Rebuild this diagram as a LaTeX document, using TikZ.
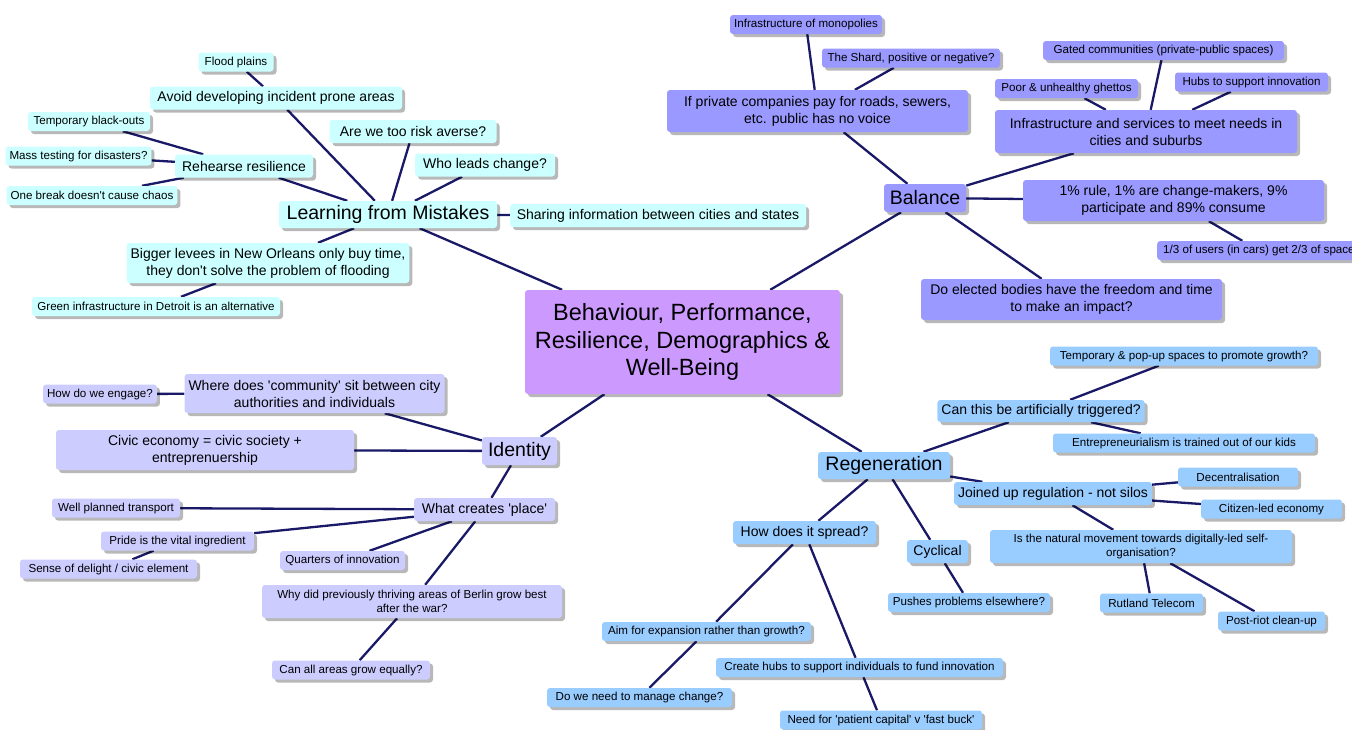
\documentclass[tikz,border=0pt]{standalone}
\usepackage{fontspec}
\newfontfamily\mapfont{Liberation Sans}
\usetikzlibrary{shadows}
\definecolor{lmcol}{HTML}{CCFFFF}
\definecolor{balcol}{HTML}{9999FF}
\definecolor{idcol}{HTML}{CCCCFF}
\definecolor{regcol}{HTML}{99CCFF}
\definecolor{ctrcol}{HTML}{CC99FF}
\definecolor{linkcol}{HTML}{191968}
\pgfdeclarelayer{background}
\pgfsetlayers{background,main}
\tikzset{
  box/.style={rectangle, rounded corners=3pt, draw=none, align=center,
    inner xsep=4pt, inner ysep=1pt,
    drop shadow={shadow xshift=3pt, shadow yshift=-3pt, fill=black, opacity=0.28}},
  sm/.style={box, font=\mapfont\fontsize{11.6}{13.5}\selectfont, minimum height=19pt},
  md/.style={box, font=\mapfont\fontsize{14}{17}\selectfont, minimum height=23pt},
  bg/.style={box, font=\mapfont\fontsize{19.5}{22}\selectfont, minimum height=27pt},
  lm/.style={fill=lmcol}, bal/.style={fill=balcol}, idn/.style={fill=idcol},
  rg/.style={fill=regcol},
  link/.style={draw=linkcol, line width=2.3pt}
}
\begin{document}
\begin{tikzpicture}[x=1pt,y=-1pt]
\useasboundingbox (0,0) rectangle (1352,729);
% centre
\node[box, fill=ctrcol, font=\mapfont\fontsize{23.5}{27.5}\selectfont, minimum width=315pt, minimum height=104pt] (ctr) at (682.5,342) {Behaviour, Performance,\\Resilience, Demographics \&\\Well-Being};
% Learning from mistakes
\node[sm,lm,minimum width=75pt] (flood) at (236,62) {Flood plains};
\node[md,lm,minimum width=252pt] (avoid) at (276,98) {Avoid developing incident prone areas};
\node[sm,lm,minimum width=122pt] (tbo) at (89,121.5) {Temporary black-outs};
\node[md,lm,minimum width=167pt] (risk) at (413,131.5) {Are we too risk averse?};
\node[sm,lm,minimum width=143pt] (mass) at (78.5,156) {Mass testing for disasters?};
\node[md,lm,minimum width=138pt] (rehearse) at (244,166) {Rehearse resilience};
\node[md,lm,minimum width=140pt] (who) at (485,165) {Who leads change?};
\node[sm,lm,minimum width=170pt] (onebreak) at (92,195.5) {One break doesn't cause chaos};
\node[bg,lm,minimum width=218pt] (learn) at (388,214.5) {Learning from Mistakes};
\node[md,lm,minimum width=296pt] (share) at (658,215.5) {Sharing information between cities and states};
\node[md,lm,minimum width=275pt,minimum height=40pt] (bigger) at (268,263) {Bigger levees in New Orleans only buy time,\\they don't solve the problem of flooding};
\node[sm,lm,minimum width=248pt] (green) at (156,306.5) {Green infrastructure in Detroit is an alternative};
% Balance
\node[sm,bal,minimum width=152pt] (mono) at (806,24.5) {Infrastructure of monopolies};
\node[sm,bal,minimum width=178pt] (shard) at (911,58) {The Shard, positive or negative?};
\node[sm,bal,minimum width=241pt] (gated) at (1163.5,50.5) {Gated communities (private-public spaces)};
\node[md,bal,minimum width=301pt,minimum height=42pt] (private) at (817.5,111) {If private companies pay for roads, sewers,\\etc. public has no voice};
\node[sm,bal,minimum width=143pt] (poor) at (1066.5,88.5) {Poor \& unhealthy ghettos};
\node[sm,bal,minimum width=153pt] (hubs) at (1251.5,82) {Hubs to support innovation};
\node[md,bal,minimum width=302pt,minimum height=43pt] (infra) at (1146,131.5) {Infrastructure and services to meet needs in\\cities and suburbs};
\node[bg,bal,minimum width=82pt,minimum height=28pt] (balance) at (925,198) {Balance};
\node[md,bal,minimum width=301pt,minimum height=41pt] (rule) at (1173.5,200.5) {1\% rule, 1\% are change-makers, 9\%\\participate and 89\% consume};
\node[sm,bal,anchor=west,inner xsep=6pt] (third) at (1157,250.5) {1/3 of users (in cars) get 2/3 of space};
\node[md,bal,minimum width=301pt,minimum height=41pt] (elected) at (1071.5,299.5) {Do elected bodies have the freedom and time\\to make an impact?};
% Identity
\node[sm,idn,minimum width=96pt] (engage) at (100,394) {How do we engage?};
\node[md,idn,minimum width=235pt,minimum height=39pt] (where) at (314.5,393.5) {Where does 'community' sit between city\\authorities and individuals};
\node[md,idn,minimum width=298pt,minimum height=40pt] (civic) at (205,450) {Civic economy = civic society +\\entreprenuership};
\node[bg,idn,minimum width=75pt,minimum height=28pt] (identity) at (519.5,451) {Identity};
\node[sm,idn,minimum width=128pt] (transport) at (116,508) {Well planned transport};
\node[md,idn,minimum width=141pt] (place) at (484.5,509.5) {What creates 'place'};
\node[sm,idn,minimum width=153pt] (pride) at (177.5,541) {Pride is the vital ingredient};
\node[sm,idn,minimum width=125pt] (quarters) at (342.5,560.5) {Quarters of innovation};
\node[sm,idn,minimum width=177pt] (delight) at (108.5,569) {Sense of delight / civic element};
\node[sm,idn,minimum width=300pt,minimum height=33pt] (why) at (412,601.5) {Why did previously thriving areas of Berlin grow best\\after the war?};
\node[sm,idn,minimum width=158pt] (canall) at (351,670) {Can all areas grow equally?};
% Regeneration
\node[sm,rg,minimum width=268pt] (popup) at (1184,356) {Temporary \& pop-up spaces to promote growth?};
\node[md,rg,minimum width=202pt,minimum height=22pt] (cantrig) at (1041,411) {Can this be artificially triggered?};
\node[sm,rg,minimum width=262pt] (entre) at (1184,443) {Entrepreneurialism is trained out of our kids};
\node[bg,rg,minimum width=132pt] (regen) at (884,465.5) {Regeneration};
\node[sm,rg,minimum width=120pt] (decent) at (1238,477) {Decentralisation};
\node[md,rg,minimum width=190pt] (joined) at (1053,493.5) {Joined up regulation - not silos};
\node[sm,rg,minimum width=141pt] (citizen) at (1271.5,509) {Citizen-led economy};
\node[md,rg,minimum width=143pt] (spread) at (804.5,532.5) {How does it spread?};
\node[sm,rg,minimum width=302pt,minimum height=33pt] (natural) at (1141,546.5) {Is the natural movement towards digitally-led self-\\organisation?};
\node[md,rg,minimum width=61pt] (cyclical) at (937.5,551.5) {Cyclical};
\node[sm,rg,minimum width=162pt] (pushes) at (969,602.5) {Pushes problems elsewhere?};
\node[sm,rg,minimum width=103pt] (rutland) at (1151.5,603) {Rutland Telecom};
\node[sm,rg,minimum width=107pt] (postriot) at (1271.5,621) {Post-riot clean-up};
\node[sm,rg,minimum width=209pt] (aim) at (706.5,631.5) {Aim for expansion rather than growth?};
\node[sm,rg,minimum width=287pt] (create) at (859.5,667.5) {Create hubs to support individuals to fund innovation};
\node[sm,rg,minimum width=185pt] (manage) at (639.5,697.5) {Do we need to manage change?};
\node[sm,rg,minimum width=202pt] (patient) at (881,720) {Need for 'patient capital' v 'fast buck'};
% connectors
\begin{pgfonlayer}{background}
\foreach \a/\b in {ctr/learn, learn/avoid, avoid/flood, learn/rehearse, rehearse/tbo, rehearse/mass, rehearse/onebreak, learn/risk, learn/who, learn/share, learn/bigger, bigger/green,
 ctr/balance, balance/private, private/mono, private/shard, balance/infra, infra/poor, infra/gated, infra/hubs, balance/rule, rule/third, balance/elected,
 ctr/identity, identity/where, where/engage, identity/civic, identity/place, place/transport, place/pride, pride/delight, place/quarters, place/why, why/canall,
 ctr/regen, regen/cantrig, cantrig/popup, cantrig/entre, regen/joined, joined/decent, joined/citizen, joined/natural, natural/rutland, natural/postriot, regen/spread, spread/aim, aim/manage, spread/create, create/patient, regen/cyclical, cyclical/pushes}
  \draw[link] (\a) -- (\b);
\end{pgfonlayer}
\end{tikzpicture}
\end{document}
